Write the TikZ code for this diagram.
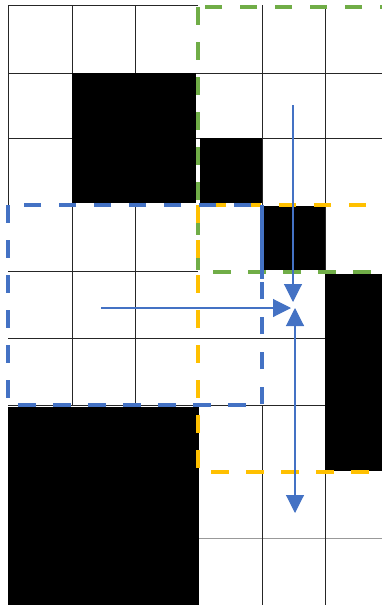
\documentclass[tikz,border=0pt]{standalone}
\usetikzlibrary{arrows.meta}
\definecolor{msblue}{HTML}{4472C4}
\definecolor{msgreen}{HTML}{70AD47}
\definecolor{msgold}{HTML}{FFC000}
\tikzset{
  % --- grid and occupied cells ------------------------------------------
  gridline/.style ={draw=black!85, line width=1pt},
  faintline/.style={draw=black!40, line width=1pt},
  wall/.style     ={fill=black},
  % --- dashed windows ---------------------------------------------------
  window/.style   ={line width=4pt, dash pattern=on 17.5pt off 17.5pt},
  % --- arrows -----------------------------------------------------------
  arrow/.style    ={-{Triangle[length=18pt, width=18pt]}, draw=msblue,
                    fill=msblue, line width=1.1pt},
}
\begin{document}
\begin{tikzpicture}[x=1pt, y=-1pt]
  \useasboundingbox (0,0) rectangle (382,605);
  \clip (0,0) rectangle (382,605);

  % ============================= grid lines =============================
  \draw[gridline] (8,5.7) -- (198,5.7);
  \foreach \y in {73,138} \draw[gridline] (8,\y) -- (390,\y);
  \draw[gridline] (8,271) -- (198,271);
  \foreach \y in {338,405} \draw[gridline] (8,\y) -- (325,\y);
  \foreach \y in {538,605} \draw[faintline] (198,\y) -- (390,\y);
  \draw[gridline] (8,5) -- (8,205);
  \foreach \x in {72,135} \draw[gridline] (\x,5) -- (\x,405);
  \draw[faintline] (198.5,471) -- (198.5,605);
  \draw[gridline] (262,5) -- (262,205);
  \draw[gridline] (262,405) -- (262,605);
  \draw[gridline] (325,5) -- (325,605);

  % ============================= occupied cells =============================
  \fill[wall] (72,73)   rectangle (196,203);
  \fill[wall] (200,138) rectangle (262,203);
  \fill[wall] (263,206) rectangle (325,270);
  \fill[wall] (325,274) rectangle (390,471);
  \fill[wall] (8,407)   rectangle (199,605);

  % ============================= dashed windows =============================
  \draw[window, draw=msgreen] (198,7)   rectangle (400,272);
  \draw[window, draw=msgold]  (198,205) rectangle (400,472);
  \draw[window, draw=msblue]  (8,205)   rectangle (262,405);
  \draw[draw=msblue, line width=4pt] (262,205) -- (262,279);

  % ============================= arrows =============================
  \coordinate (westtail)  at (101,308);
  \coordinate (westtip)   at (291,308);
  \coordinate (northtail) at (293,105);
  \coordinate (northtip)  at (293,302);
  \coordinate (southtip)  at (295,308);
  \coordinate (southend)  at (295,513);
  \draw[arrow] (westtail) -- (westtip);
  \draw[arrow] (northtail) -- (northtip);
  \draw[arrow, {Triangle[length=18pt, width=18pt]}-{Triangle[length=18pt, width=18pt]}]
    (southtip) -- (southend);

\end{tikzpicture}
\end{document}
